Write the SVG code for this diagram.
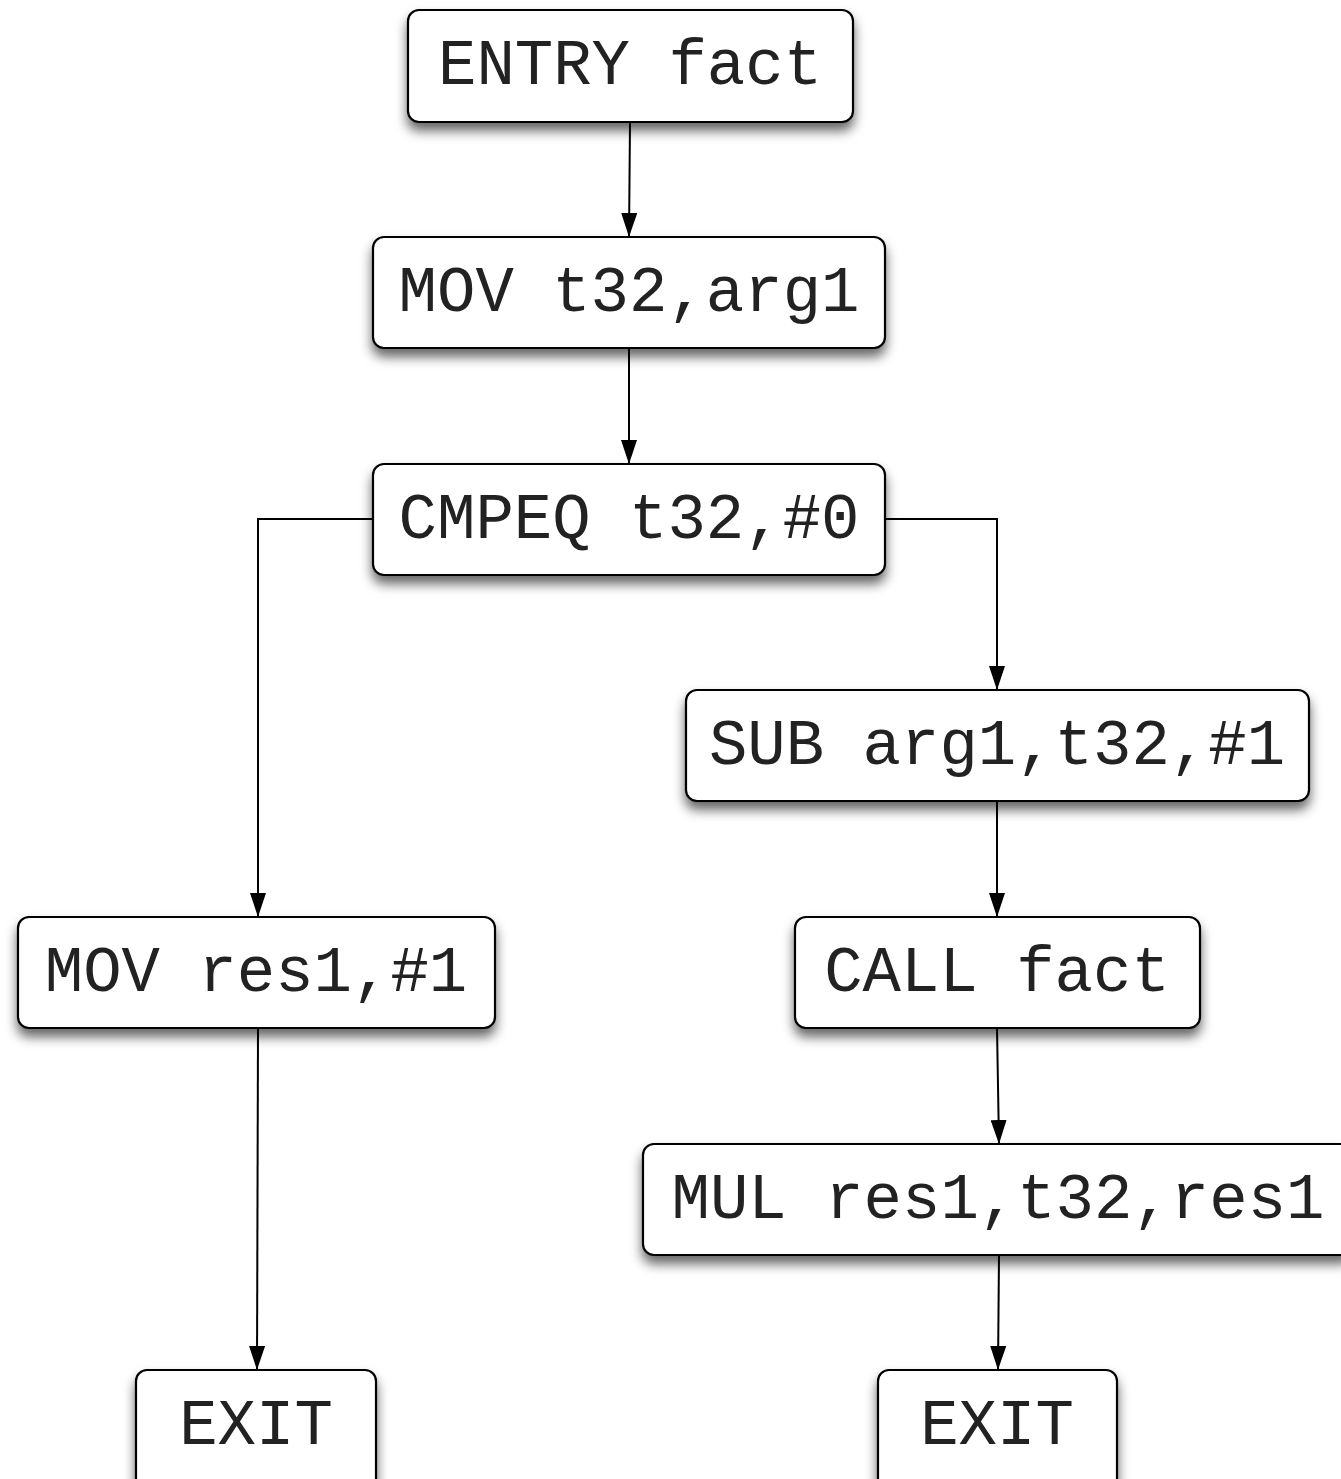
<svg xmlns="http://www.w3.org/2000/svg" width="1341" height="1479" viewBox="0 0 1341 1479">
<defs>
<filter id="sh" x="-10%" y="-20%" width="120%" height="160%">
<feDropShadow dx="0" dy="8" stdDeviation="6" flood-color="#000" flood-opacity="0.6"/>
</filter>
<marker id="arr" viewBox="0 0 24 16" refX="24" refY="8" markerWidth="24" markerHeight="16" markerUnits="userSpaceOnUse" orient="auto">
<path d="M0,0 L24,8 L0,16 Z" fill="#000"/>
</marker>
</defs>
<style>
.box{fill:#fff;stroke:#000;stroke-width:2.2;filter:url(#sh)}
.lbl{font-family:"Liberation Mono","Courier New",monospace;font-size:64px;fill:#222;text-anchor:middle}
.edge{fill:none;stroke:#000;stroke-width:2;marker-end:url(#arr)}
</style>
<rect width="1341" height="1479" fill="#fff"/>
<g id="connectors">
<path class="edge" d="M630,122 L629,237"/>
<path class="edge" d="M629,348 L629,464"/>
<path class="edge" d="M373,519 L258,519 L258,917"/>
<path class="edge" d="M885,519 L997,519 L997,690"/>
<path class="edge" d="M997,801 L997,917"/>
<path class="edge" d="M997,1028 L999,1144"/>
<path class="edge" d="M258,1028 L257,1370"/>
<path class="edge" d="M999,1255 L998,1370"/>
</g>
<g id="n1"><rect class="box" x="408" y="10" width="445" height="112" rx="11"/><text class="lbl" x="630" y="84">ENTRY fact</text></g>
<g id="n2"><rect class="box" x="373" y="237" width="512" height="111" rx="11"/><text class="lbl" x="629" y="311">MOV t32,arg1</text></g>
<g id="n3"><rect class="box" x="373" y="464" width="512" height="111" rx="11"/><text class="lbl" x="629" y="538">CMPEQ t32,#0</text></g>
<g id="n4"><rect class="box" x="686" y="690" width="623" height="111" rx="11"/><text class="lbl" x="997" y="764">SUB arg1,t32,#1</text></g>
<g id="n5"><rect class="box" x="18" y="917" width="477" height="111" rx="11"/><text class="lbl" x="256" y="991">MOV res1,#1</text></g>
<g id="n6"><rect class="box" x="795" y="917" width="405" height="111" rx="11"/><text class="lbl" x="997" y="991">CALL fact</text></g>
<g id="n7"><rect class="box" x="643" y="1144" width="710" height="111" rx="11"/><text class="lbl" x="998" y="1218">MUL res1,t32,res1</text></g>
<g id="n8"><rect class="box" x="136" y="1370" width="240" height="120" rx="11"/><text class="lbl" x="256" y="1444">EXIT</text></g>
<g id="n9"><rect class="box" x="878" y="1370" width="239" height="120" rx="11"/><text class="lbl" x="997" y="1444">EXIT</text></g>
</svg>
